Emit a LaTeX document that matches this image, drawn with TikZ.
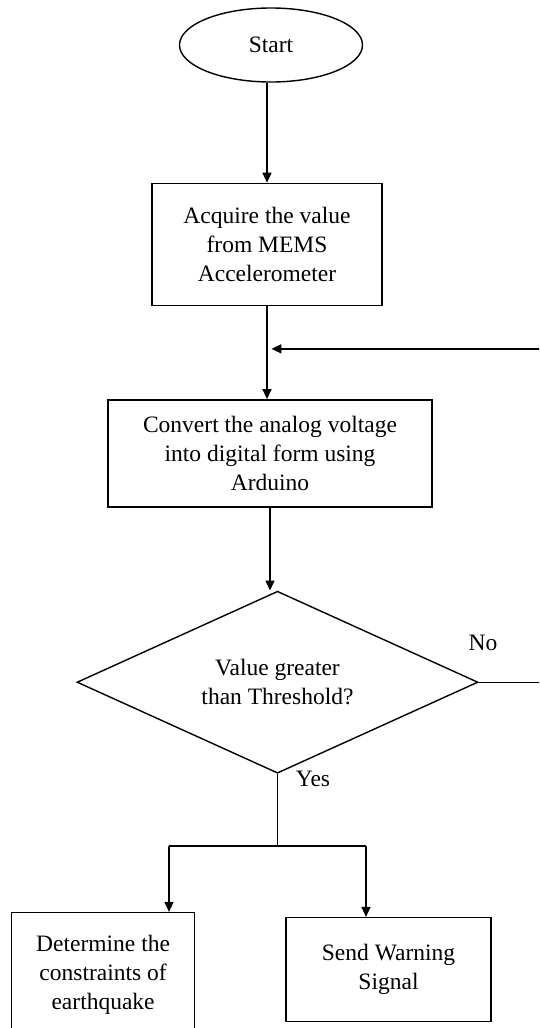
\documentclass[tikz,border=0pt]{standalone}
\usepackage{fontspec}
\setmainfont{Liberation Serif}
\usetikzlibrary{shapes.geometric, arrows.meta, positioning, calc}

\tikzset{
	startstop/.style = {draw, ellipse, minimum width=183pt, minimum height=74pt, inner sep=0pt},
	process/.style = {draw, rectangle, align=center, inner sep=2pt},
	decision/.style = {draw, diamond, aspect=2.2, minimum width=401pt, minimum height=182pt, inner sep=0pt, align=center},
	arr/.style = {-{Triangle[length=10pt,width=9pt]}}
}

\begin{document}
\begin{tikzpicture}[x=1pt, y=-1pt, line width=1.4pt,
			font=\fontsize{23.5}{29}\selectfont]
			\useasboundingbox (0,0) rectangle (539,1028);
			\clip (0,0) rectangle (539,1028);
			\node (start) [startstop] at (271,45) {Start};
			\node (acq) [process, minimum width=230pt, minimum height=122pt,
			below = 100pt of start, xshift=-4pt] {Acquire the value\\from MEMS\\Accelerometer};
			\node (conv) [process, minimum width=324pt, minimum height=107pt,
			below = 93pt of acq, xshift=3pt] {Convert the analog voltage\\into digital form using\\Arduino};
			\node (dec) [decision, below = 83pt of conv, xshift=7.5pt] {Value greater\\than Threshold?};
			\node (warn) [process, minimum width=205pt, minimum height=104pt,
			below = 143pt of dec, xshift=111pt] {Send Warning\\Signal};
			\node (det) [process, minimum width=183pt, minimum height=125pt,
			left = 90pt of warn.north west, anchor=north east, yshift=5pt] {Determine the\\constraints of\\earthquake};
			\node (no) at (483,643) {No};
			\node (yes) at (313,779) {Yes};
			% branch points
			\coordinate (join) at ($(acq.south)!0.46!(conv.north)$);
			\coordinate (loop) at (545,0);
			\coordinate (split) at (dec.south |- 0,846);
			\coordinate (bl) at (169,846);
			\coordinate (br) at (366,846);
			\draw[arr] (acq.north |- start.south) -- (acq.north);
			\draw[arr] (acq.south) -- (acq.south |- conv.north);
			\draw[arr] (conv.south) -- (conv.south |- dec.north);
			\draw[arr, shorten >=3pt] (dec.east) -- (dec.east -| loop) -- (loop |- join) -- (join);
			\draw (dec.south) -- (split);
			\draw (bl) -- (br);
			\draw[arr] (bl) -- (bl |- det.north);
			\draw[arr] (br) -- (br |- warn.north);
		\end{tikzpicture}
\end{document}
